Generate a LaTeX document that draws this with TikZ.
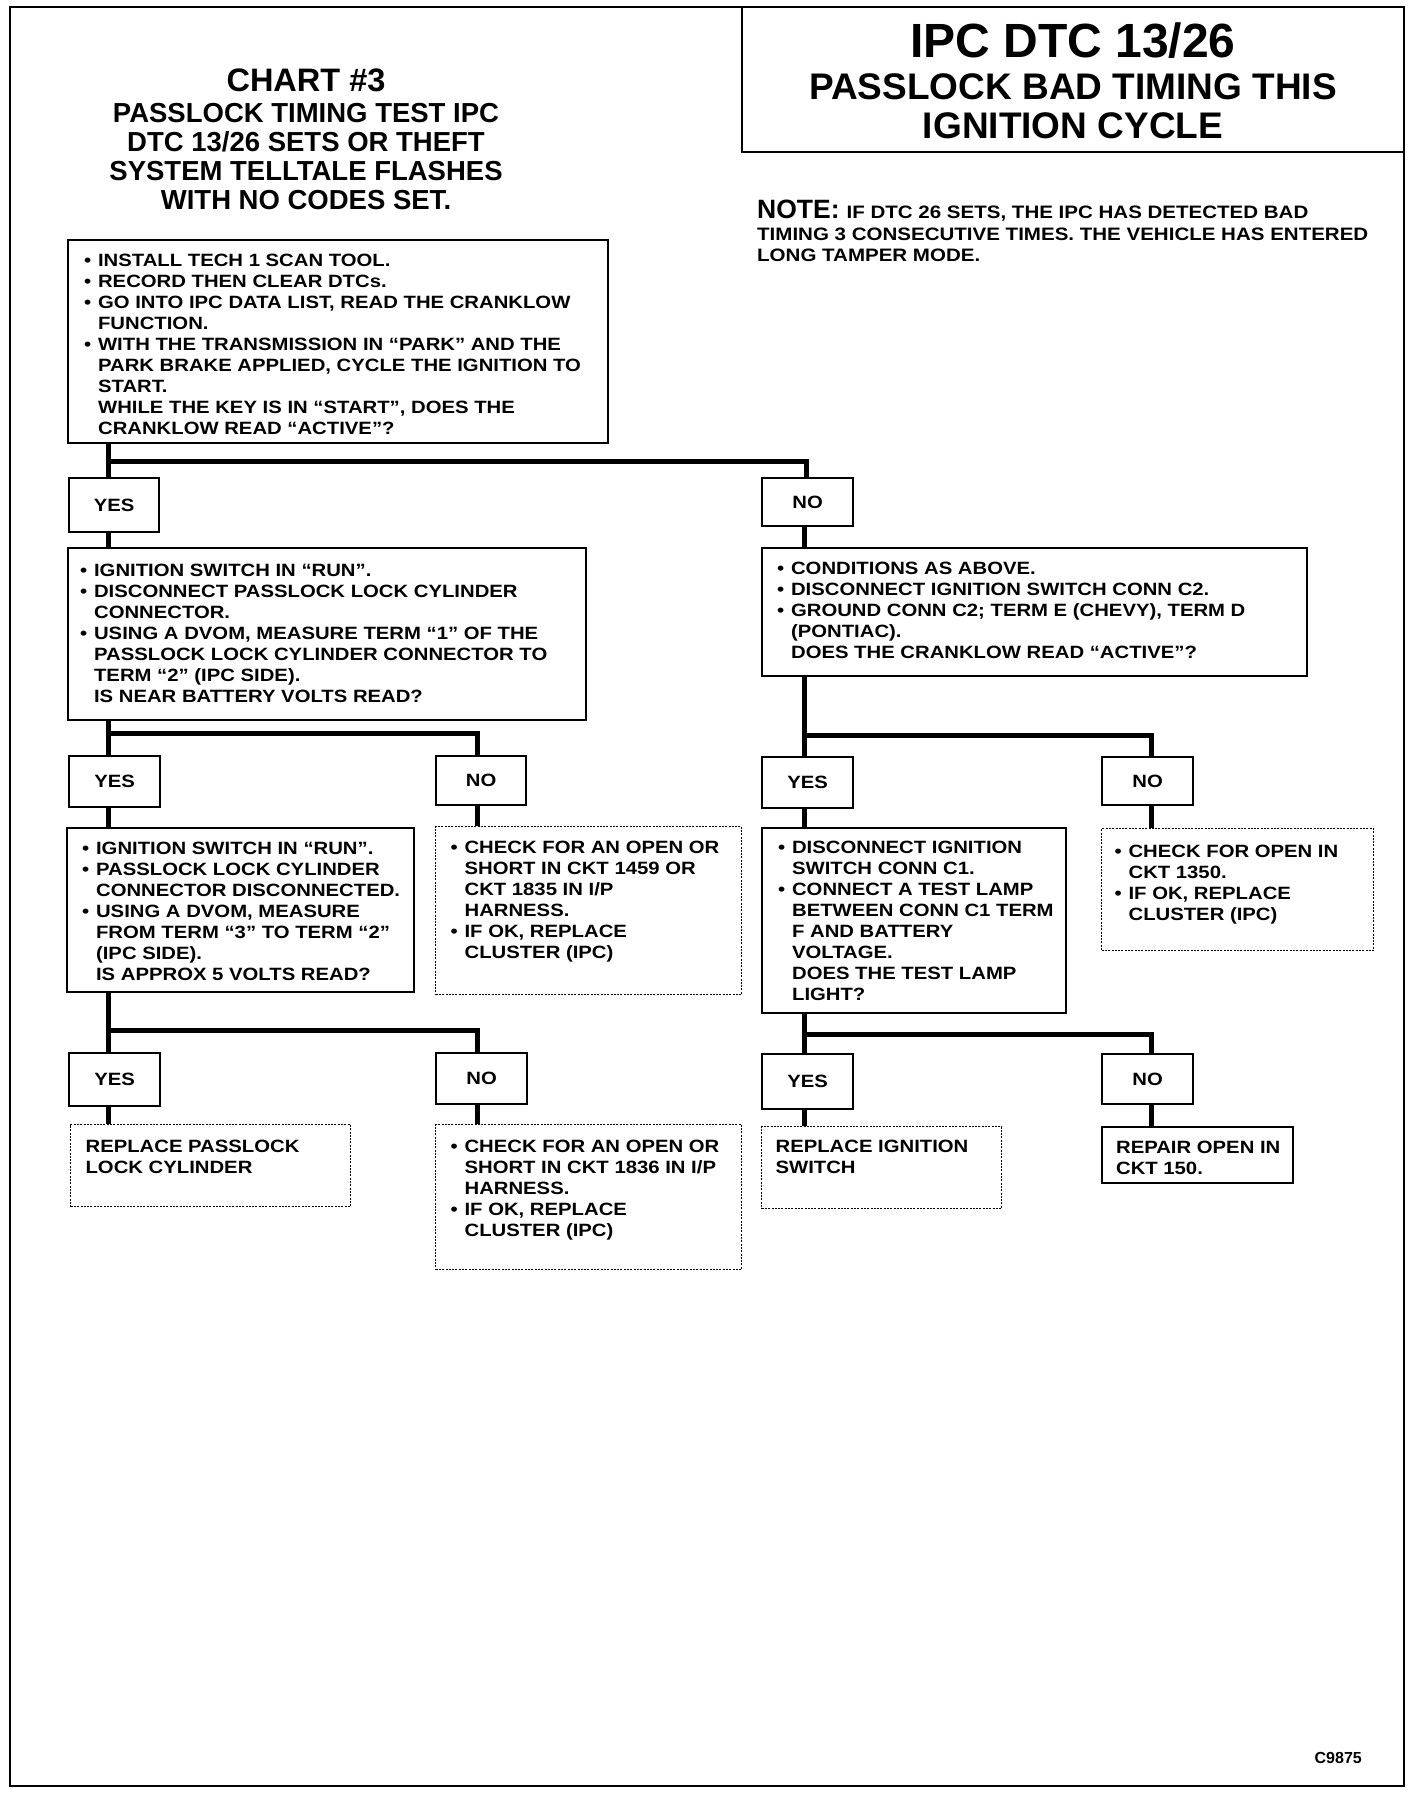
\documentclass[tikz,border=0pt]{standalone}
\usepackage{fontspec}
\setmainfont{Liberation Sans}
\newfontfamily\bodyff[FakeStretch=1.14]{Liberation Sans}
\newfontfamily\ttlff{Liberation Sans}
\newcommand\bodyfont{\bodyff\bfseries\fontsize{17.8}{21}\selectfont}
\newlength\bw
\setlength\bw{14pt}
\newcommand\bitem[1]{\par\noindent\hangindent=\bw\hangafter=1\rule{0pt}{15pt}\makebox[\bw][l]{\textbullet}#1}
\newcommand\bcont[1]{\par\noindent\hangindent=\bw\hangafter=0\rule{0pt}{15pt}#1}
\newcommand\bline[1]{\par\noindent\rule{0pt}{15pt}#1}
\newcommand\bx[5]{\parbox[t][#2][t]{#1}{\bodyfont\raggedright\leftskip=#3\relax\vspace*{\dimexpr#4-15pt\relax}#5\par}}
\begin{document}
\begin{tikzpicture}[x=1pt,y=-1pt,
  conn/.style={line width=5pt,line join=miter},
  sbox/.style={draw,line width=2.2pt,inner sep=0pt,anchor=north west},
  dbox/.style={draw,line width=1.2pt,dash pattern=on 2pt off 1.3pt,inner sep=0pt,anchor=north west},
  lab/.style={draw,line width=2.2pt,inner sep=0pt,anchor=north west,font=\bodyfont},
  frame/.style={line width=2.4pt}]
\useasboundingbox (0,0) rectangle (1424,1794);
\fill[white] (0,0) rectangle (1424,1794);
% frame and title box
\draw[frame] (10,7) rectangle (1404,1786);
\draw[frame] (742,7) rectangle (1404,152);
\node[anchor=base,font=\ttlff\bfseries\fontsize{48}{50}\selectfont] (t1) at (1073,57) {IPC DTC 13/26};
\node[anchor=base,font=\ttlff\bfseries\fontsize{37}{40}\selectfont] (t2) at (1073,99) {PASSLOCK BAD TIMING THIS};
\node[anchor=base,font=\ttlff\bfseries\fontsize{37}{40}\selectfont] (t3) at (1073,138) {IGNITION CYCLE};
% chart title
\node[anchor=base,font=\ttlff\bfseries\fontsize{32.5}{34}\selectfont] (c1) at (306,91) {CHART \#3};
\node[anchor=base,font=\ttlff\bfseries\fontsize{27.5}{30}\selectfont] (c2) at (306,122) {PASSLOCK TIMING TEST IPC};
\node[anchor=base,font=\ttlff\bfseries\fontsize{27.5}{30}\selectfont] (c3) at (306,151) {DTC 13/26 SETS OR THEFT};
\node[anchor=base,font=\ttlff\bfseries\fontsize{27.5}{30}\selectfont] (c4) at (306,180) {SYSTEM TELLTALE FLASHES};
\node[anchor=base,font=\ttlff\bfseries\fontsize{27.5}{30}\selectfont] (c5) at (306,209) {WITH NO CODES SET.};
% note
\node[anchor=base west,inner sep=0pt] (n1) at (757,218) {{\ttlff\bfseries\fontsize{26.5}{27}\selectfont NOTE:}\hspace{7pt}{\bodyff\bfseries\fontsize{18}{20}\selectfont IF DTC 26 SETS, THE IPC HAS DETECTED BAD}};
\node[anchor=base west,inner sep=0pt,font=\bodyff\bfseries\fontsize{18}{20}\selectfont] (n2) at (757,240) {TIMING 3 CONSECUTIVE TIMES. THE VEHICLE HAS ENTERED};
\node[anchor=base west,inner sep=0pt,font=\bodyff\bfseries\fontsize{18}{20}\selectfont] (n3) at (757,261) {LONG TAMPER MODE.};
% boxes
\node[sbox] (A) at (67,239) {\bx{540pt}{203pt}{16pt}{26pt}{%
\bitem{INSTALL TECH 1 SCAN TOOL.}
\bitem{RECORD THEN CLEAR DTCs.}
\bitem{GO INTO IPC DATA LIST, READ THE CRANKLOW\newline FUNCTION.}
\bitem{WITH THE TRANSMISSION IN “PARK” AND THE\newline PARK BRAKE APPLIED, CYCLE THE IGNITION TO\newline START.}
\bcont{WHILE THE KEY IS IN “START”, DOES THE\newline CRANKLOW READ “ACTIVE”?}}};
\node[lab,minimum width=90pt,minimum height=54pt] (Y1) at (68,477) {YES};
\node[lab,minimum width=91pt,minimum height=48pt] (N1) at (761,477) {NO};
\node[sbox] (B) at (67,547) {\bx{518pt}{172pt}{12pt}{28pt}{%
\bitem{IGNITION SWITCH IN “RUN”.}
\bitem{DISCONNECT PASSLOCK LOCK CYLINDER\newline CONNECTOR.}
\bitem{USING A DVOM, MEASURE TERM “1” OF THE\newline PASSLOCK LOCK CYLINDER CONNECTOR TO\newline TERM “2” (IPC SIDE).}
\bcont{IS NEAR BATTERY VOLTS READ?}}};
\node[sbox] (C) at (761,547) {\bx{545pt}{128pt}{15pt}{26pt}{%
\bitem{CONDITIONS AS ABOVE.}
\bitem{DISCONNECT IGNITION SWITCH CONN C2.}
\bitem{GROUND CONN C2; TERM E (CHEVY), TERM D\newline (PONTIAC).}
\bcont{DOES THE CRANKLOW READ “ACTIVE”?}}};
\node[lab,minimum width=91pt,minimum height=51pt] (Y2) at (68,755) {YES};
\node[lab,minimum width=90pt,minimum height=49pt] (N2) at (435,755) {NO};
\node[lab,minimum width=91pt,minimum height=51pt] (Y3) at (761,756) {YES};
\node[lab,minimum width=91pt,minimum height=48pt] (N3) at (1101,756) {NO};
\node[sbox] (D) at (66,827) {\bx{347pt}{164pt}{15pt}{26pt}{%
\bitem{IGNITION SWITCH IN “RUN”.}
\bitem{PASSLOCK LOCK CYLINDER\newline CONNECTOR DISCONNECTED.}
\bitem{USING A DVOM, MEASURE\newline FROM TERM “3” TO TERM “2”\newline (IPC SIDE).}
\bcont{IS APPROX 5 VOLTS READ?}}};
\node[dbox] (E) at (435,826) {\bx{306pt}{168pt}{15pt}{27pt}{%
\bitem{CHECK FOR AN OPEN OR\newline SHORT IN CKT 1459 OR\newline CKT 1835 IN I/P\newline HARNESS.}
\bitem{IF OK, REPLACE\newline CLUSTER (IPC)}}};
\node[sbox] (F) at (761,827) {\bx{304pt}{185pt}{16pt}{25pt}{%
\bitem{DISCONNECT IGNITION\newline SWITCH CONN C1.}
\bitem{CONNECT A TEST LAMP\newline BETWEEN CONN C1 TERM\newline F AND BATTERY\newline VOLTAGE.}
\bcont{DOES THE TEST LAMP\newline LIGHT?}}};
\node[dbox] (G) at (1101,828) {\bx{272pt}{122pt}{13pt}{29pt}{%
\bitem{CHECK FOR OPEN IN\newline CKT 1350.}
\bitem{IF OK, REPLACE\newline CLUSTER (IPC)}}};
\node[lab,minimum width=91pt,minimum height=53pt] (Y4) at (68,1052) {YES};
\node[lab,minimum width=91pt,minimum height=51pt] (N4) at (435,1052) {NO};
\node[lab,minimum width=91pt,minimum height=55pt] (Y5) at (761,1053) {YES};
\node[lab,minimum width=91pt,minimum height=50pt] (N5) at (1101,1053) {NO};
\node[dbox] (H) at (70,1124) {\bx{280pt}{82pt}{15pt}{28pt}{%
\bline{REPLACE PASSLOCK\newline LOCK CYLINDER}}};
\node[dbox] (I) at (435,1124) {\bx{306pt}{145pt}{15pt}{28pt}{%
\bitem{CHECK FOR AN OPEN OR\newline SHORT IN CKT 1836 IN I/P\newline HARNESS.}
\bitem{IF OK, REPLACE\newline CLUSTER (IPC)}}};
\node[dbox] (J) at (761,1126) {\bx{240pt}{82pt}{14pt}{26pt}{%
\bline{REPLACE IGNITION\newline SWITCH}}};
\node[sbox] (K) at (1101,1126) {\bx{191pt}{56pt}{14pt}{26pt}{%
\bline{REPAIR OPEN IN\newline CKT 150.}}};
\node[anchor=base east,inner sep=0pt,font=\ttlff\bfseries\fontsize{16}{18}\selectfont] (code) at (1362,1763) {C9875};
% connector rails
\coordinate (b1) at (0,461);
\coordinate (b2) at (0,733);
\coordinate (b2r) at (0,735);
\coordinate (b3) at (0,1030);
\coordinate (b3r) at (0,1034);
\coordinate (vL) at (108,0);
\coordinate (vLn) at (477,0);
\coordinate (vR) at (804,0);
\coordinate (vRn) at (1151,0);
\coordinate (vN1) at (806,0);
\draw[conn] (A.south -| vL) -- (Y1.north -| vL);
\draw[conn] (b1 -| vL) -| (N1.north -| vN1);
\draw[conn] (Y1.south -| vL) -- (B.north -| vL);
\draw[conn] (N1.south -| vR) -- (C.north -| vR);
\draw[conn] (B.south -| vL) -- (Y2.north -| vL);
\draw[conn] (b2 -| vL) -| (N2.north -| vLn);
\draw[conn] (Y2.south -| vL) -- (D.north -| vL);
\draw[conn] (N2.south -| vLn) -- (E.north -| vLn);
\draw[conn] (C.south -| vR) -- (Y3.north -| vR);
\draw[conn] (b2r -| vR) -| (N3.north -| vRn);
\draw[conn] (Y3.south -| vR) -- (F.north -| vR);
\draw[conn] (N3.south -| vRn) -- (G.north -| vRn);
\draw[conn] (D.south -| vL) -- (Y4.north -| vL);
\draw[conn] (b3 -| vL) -| (N4.north -| vLn);
\draw[conn] (Y4.south -| vL) -- (H.north -| vL);
\draw[conn] (N4.south -| vLn) -- (I.north -| vLn);
\draw[conn] (F.south -| vR) -- (Y5.north -| vR);
\draw[conn] (b3r -| vR) -| (N5.north -| vRn);
\draw[conn] (Y5.south -| vR) -- (J.north -| vR);
\draw[conn] (N5.south -| vRn) -- (K.north -| vRn);
\end{tikzpicture}
\end{document}
